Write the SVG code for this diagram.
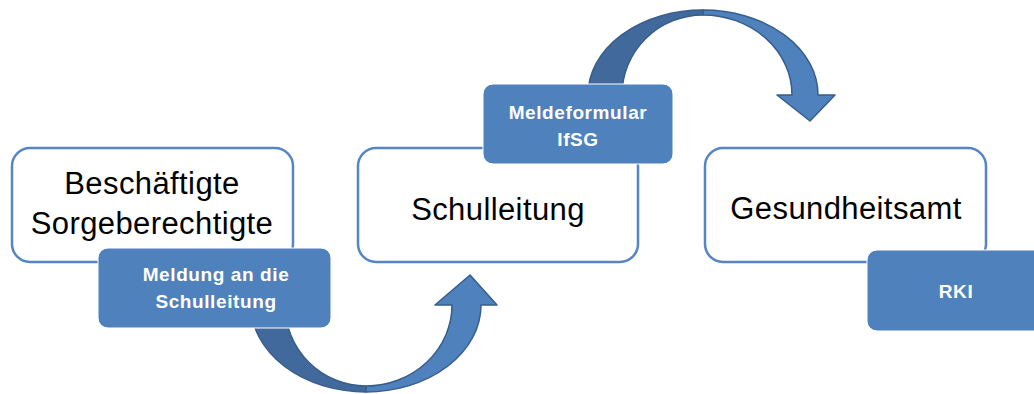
<svg xmlns="http://www.w3.org/2000/svg" width="1034" height="394" viewBox="0 0 1034 394">
<style>
.wbox{fill:#ffffff;stroke:#5585c2;stroke-width:2.5}
.bbox{fill:#4f81bd;stroke:#ffffff;stroke-width:1}
.main{font-family:"Liberation Sans",Arial,sans-serif;font-size:31px;letter-spacing:0.4px;fill:#000000;text-anchor:middle}
.sub{font-family:"Liberation Sans",Arial,sans-serif;font-size:19px;letter-spacing:0.6px;font-weight:bold;fill:#ffffff;text-anchor:middle}
.adark{fill:#41699b;stroke:#375d8c;stroke-width:1.5;stroke-linejoin:round}
.alight{fill:#4f81bd;stroke:#375d8c;stroke-width:1.5;stroke-linejoin:round}
</style>
<rect width="1034" height="394" fill="#ffffff"/>
<g id="connectors">
  <g id="arrow1">
    <path class="adark" d="M 251 305 A 115 87 0 0 0 366 392 L 366 386 A 81 81 0 0 1 285 305 Z"/>
    <path class="alight" d="M 366 392 A 115 87 0 0 0 481 305 L 497 305 L 470 275 L 435 305 L 452 305 A 86 81 0 0 1 366 386 Z"/>
  </g>
  <g id="arrow2">
    <path class="adark" d="M 588 95 A 115 85 0 0 1 703 10 L 703 15 A 81 80 0 0 0 622 95 Z"/>
    <path class="alight" d="M 703 10 A 115 85 0 0 1 818 95 L 835 95 L 810 121 L 777 95 L 792 95 A 89 80 0 0 0 703 15 Z"/>
  </g>
</g>
<g id="node-beschaeftigte">
  <rect class="wbox" x="12" y="148" width="281" height="114" rx="18"/>
  <text class="main" x="152" y="194">Beschäftigte</text>
  <text class="main" x="152" y="234">Sorgeberechtigte</text>
</g>
<g id="node-schulleitung">
  <rect class="wbox" x="358" y="148" width="280" height="114" rx="18"/>
  <text class="main" x="498" y="220">Schulleitung</text>
</g>
<g id="node-gesundheitsamt">
  <rect class="wbox" x="705" y="148" width="281" height="114" rx="18"/>
  <text class="main" x="846" y="219">Gesundheitsamt</text>
</g>
<g id="node-meldung">
  <rect class="bbox" x="98" y="248" width="233" height="80" rx="10"/>
  <text class="sub" x="216" y="281">Meldung an die</text>
  <text class="sub" x="216" y="308">Schulleitung</text>
</g>
<g id="node-meldeformular">
  <rect class="bbox" x="483" y="84" width="190" height="80" rx="10"/>
  <text class="sub" x="578" y="119">Meldeformular</text>
  <text class="sub" x="578" y="146">IfSG</text>
</g>
<g id="node-rki">
  <rect class="bbox" x="867" y="250" width="180" height="81" rx="10"/>
  <text class="sub" x="956" y="298">RKI</text>
</g>
</svg>
